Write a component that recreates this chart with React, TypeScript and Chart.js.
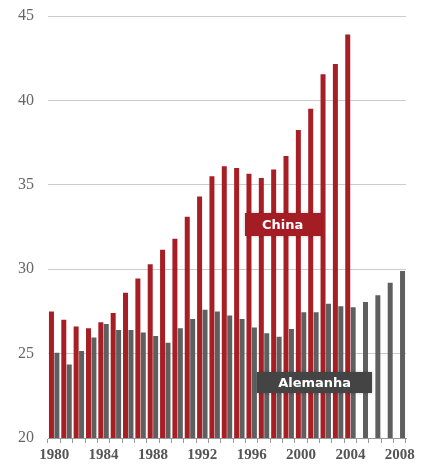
import React, { useEffect, useRef } from "react";
import { Chart, registerables } from "chart.js";

Chart.register(...registerables);

const years: string[] = [];
for (let y = 1980; y <= 2008; y++) years.push(String(y));

const china: (number | null)[] = [
  27.5, 27.0, 26.6, 26.5, 26.85, 27.4, 28.6, 29.45, 30.3, 31.15,
  31.8, 33.1, 34.3, 35.5, 36.1, 36.0, 35.65, 35.4, 35.9, 36.7,
  38.25, 39.5, 41.55, 42.15, 43.9, null, null, null, null,
];

const germany: number[] = [
  25.05, 24.35, 25.15, 25.95, 26.75, 26.4, 26.4, 26.25, 26.05, 25.65,
  26.5, 27.05, 27.6, 27.5, 27.25, 27.05, 26.55, 26.2, 26.0, 26.45,
  27.45, 27.45, 27.95, 27.8, 27.75, 28.05, 28.45, 29.2, 29.9,
];

const yTicks = [20, 25, 30, 35, 40, 45];

const RED = "#A81E25";
const GRAY = "#5F5F5F";

// series labels anchored in data space (category index, value)
const seriesLabels = [
  { text: "China", idx: 18.5, value: 32.65, bg: "#A51D24", w: 76, h: 23 },
  { text: "Alemanha", idx: 21.1, value: 23.3, bg: "#444444", w: 115, h: 21 },
];

const labelPlugin = {
  id: "seriesLabels",
  afterDatasetsDraw(chart: any) {
    const { ctx, scales } = chart;
    const xs = scales.x;
    const ys = scales.y;
    const step = xs.getPixelForValue(1) - xs.getPixelForValue(0);
    ctx.save();
    for (const l of seriesLabels) {
      const cx = xs.getPixelForValue(0) + l.idx * step;
      const cy = ys.getPixelForValue(l.value);
      ctx.shadowColor = "rgba(0,0,0,0.25)";
      ctx.shadowBlur = 3;
      ctx.fillStyle = l.bg;
      ctx.fillRect(Math.round(cx - l.w / 2), Math.round(cy - l.h / 2), l.w, l.h);
      ctx.shadowBlur = 0;
      ctx.shadowColor = "transparent";
      ctx.fillStyle = "#ffffff";
      ctx.font = "bold 13px 'DejaVu Sans'";
      ctx.textAlign = "center";
      ctx.textBaseline = "middle";
      ctx.fillText(l.text, cx, cy + 1);
    }
    ctx.restore();
  },
};

export default function App() {
  const ref = useRef<HTMLCanvasElement | null>(null);
  useEffect(() => {
    if (!ref.current) return;
    const chart = new Chart(ref.current, {
      type: "bar",
      data: {
        labels: years,
        datasets: [
          {
            label: "China",
            data: china,
            backgroundColor: RED,
            categoryPercentage: 0.88,
            barPercentage: 0.92,
          },
          {
            label: "Alemanha",
            data: germany,
            backgroundColor: GRAY,
            categoryPercentage: 0.88,
            barPercentage: 0.92,
          },
        ],
      },
      options: {
        animation: false,
        responsive: false,
        maintainAspectRatio: false,
        layout: { padding: { top: 16, right: 19, left: 0, bottom: 0 } },
        plugins: {
          legend: { display: false },
          tooltip: { enabled: false },
        },
        scales: {
          x: {
            offset: true,
            grid: {
              offset: true,
              drawOnChartArea: false,
              drawTicks: true,
              tickLength: 5,
              color: "#999999",
            },
            border: { display: true, color: "#999999", width: 1 },
            ticks: {
              autoSkip: false,
              maxRotation: 0,
              padding: 3,
              color: "#555555",
              font: { family: "'Liberation Serif'", size: 15, weight: "bold" },
              callback: (_v: any, i: number) =>
                (parseInt(years[i]) - 1980) % 4 === 0 ? years[i] : "",
            },
            afterFit: (s: any) => {
              s.height = 30;
            },
          },
          y: {
            min: 20,
            max: 45,
            afterBuildTicks: (s: any) => {
              s.ticks = yTicks.map((v) => ({ value: v }));
            },
            grid: {
              drawTicks: false,
              color: "#cccccc",
              lineWidth: 1,
            },
            border: { display: false },
            ticks: {
              padding: 14,
              color: "#666666",
              font: { family: "'Liberation Serif'", size: 16 },
            },
            afterFit: (s: any) => {
              s.width = 48;
              s.paddingTop = 0;
              s.paddingBottom = 0;
            },
          },
        },
      },
      plugins: [labelPlugin],
    } as any);
    return () => chart.destroy();
  }, []);
  return (
    <div style={{ position: "fixed", left: 0, top: 0, width: 425, height: 468, background: "#fff" }}>
      <canvas ref={ref} width={425} height={468} style={{ width: 425, height: 468, display: "block" }} />
    </div>
  );
}
